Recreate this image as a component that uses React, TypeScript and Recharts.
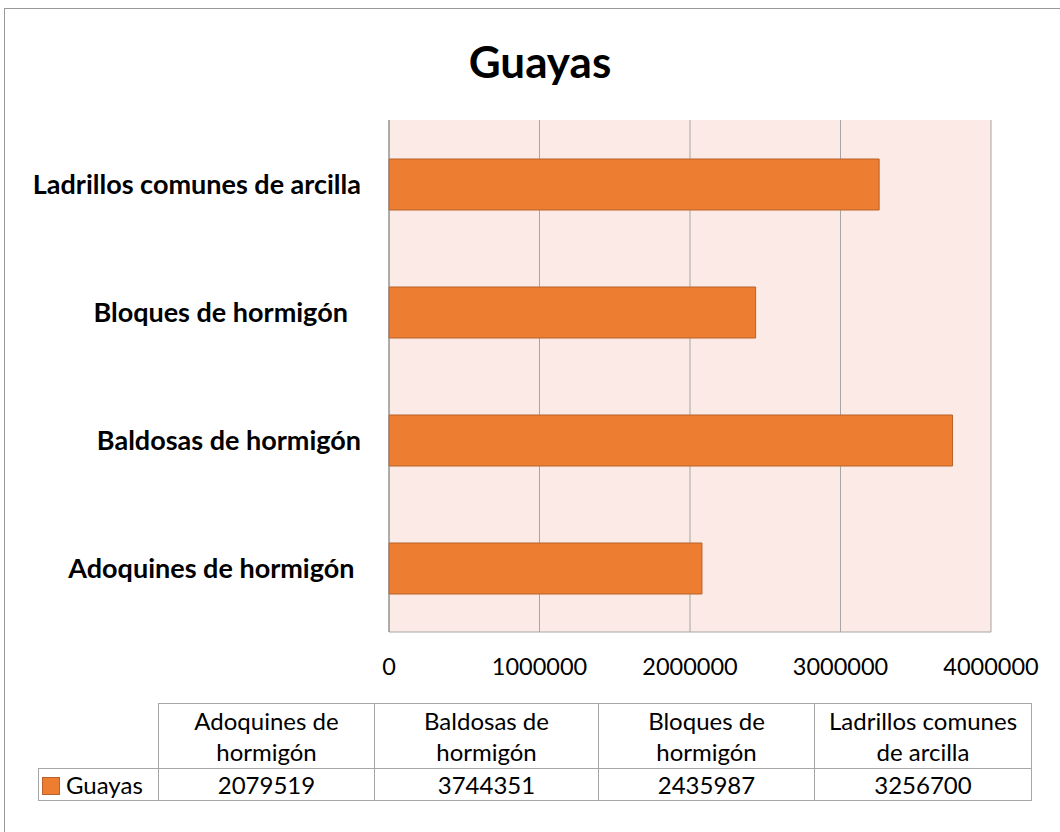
import { BarChart, Bar, XAxis, YAxis, CartesianGrid } from "recharts";

const categories = [
  "Adoquines de hormigón ",
  "Baldosas de hormigón",
  "Bloques de hormigón  ",
  "Ladrillos comunes de arcilla",
];
const guayas = [2079519, 3744351, 2435987, 3256700];
const xTicks = [0, 1000000, 2000000, 3000000, 4000000];
const seriesName = "Guayas";

const chartData = categories.map((name, i) => ({ name, value: guayas[i] }));

const FONT = "Lato, 'Open Sans', sans-serif";
const ORANGE = "#ED7D31";
const GRID = "#A6A6A6";

function CategoryTick(props: any) {
  const { x, y, payload } = props;
  return (
    <text
      x={x}
      y={y}
      dy='0.36em'
      textAnchor='end'
      fill='#000'
      fontFamily={FONT}
      fontWeight={700}
      fontSize={27}
      style={{ whiteSpace: "pre" }}
    >
      {payload.value}
    </text>
  );
}

const colWidths = [120, 216, 224, 216, 217];

export default function App() {
  const cell: React.CSSProperties = {
    border: `1px solid ${GRID}`,
    textAlign: "center",
    padding: 0,
    fontFamily: FONT,
    fontSize: 24,
    lineHeight: "31px",
    color: "#000",
  };

  return (
    <div
      style={{
        position: "absolute",
        left: 0,
        top: 0,
        width: 1060,
        height: 832,
        overflow: "hidden",
        background: "#fff",
      }}
    >
      <div
        style={{
          position: "absolute",
          left: 4,
          top: 8,
          width: 1100,
          height: 900,
          border: "1px solid #999",
        }}
      />
      <div
        style={{
          position: "absolute",
          left: 0,
          top: 33,
          width: 1080,
          textAlign: "center",
          fontFamily: FONT,
          fontWeight: 700,
          fontSize: 44,
          lineHeight: "56px",
        }}
      >
        {seriesName}
      </div>

      <div style={{ position: "absolute", left: 0, top: 0 }}>
        <BarChart
          width={1060}
          height={700}
          data={chartData}
          layout='vertical'
          margin={{ top: 120, right: 69, left: 0, bottom: 0 }}
        >
          <CartesianGrid
            horizontal={false}
            stroke={GRID}
            fill='#FBEAE5'
            fillOpacity={1}
          />
          <XAxis
            type='number'
            domain={[0, 4000000]}
            ticks={xTicks}
            interval={0}
            height={68}
            axisLine={{ stroke: GRID }}
            tickLine={false}
            tickMargin={20}
            tick={{ fill: "#000", fontFamily: FONT, fontSize: 23.5 }}
          />
          <YAxis
            type='category'
            dataKey='name'
            reversed
            width={389}
            axisLine={{ stroke: "#888" }}
            tickLine={false}
            tickMargin={22}
            tick={<CategoryTick />}
          />
          <Bar
            dataKey='value'
            name={seriesName}
            fill={ORANGE}
            stroke='#B9622A'
            strokeWidth={1}
            barSize={51}
            isAnimationActive={false}
          />
        </BarChart>
      </div>

      <table
        style={{
          position: "absolute",
          left: 38,
          top: 703,
          borderCollapse: "collapse",
          tableLayout: "fixed",
        }}
      >
        <colgroup>
          {colWidths.map((w, i) => (
            <col key={i} style={{ width: w }} />
          ))}
        </colgroup>
        <tbody>
          <tr>
            <td style={{ ...cell, border: "none" }} />
            {categories.map((c) => (
              <td key={c} style={{ ...cell, height: 64 }}>
                {c}
              </td>
            ))}
          </tr>
          <tr>
            <td style={{ ...cell, textAlign: "left", paddingLeft: 3 }}>
              <span
                style={{
                  display: "inline-block",
                  width: 16,
                  height: 16,
                  background: ORANGE,
                  border: "1px solid #B9622A",
                  marginRight: 6,
                  verticalAlign: "-1px",
                }}
              />
              {seriesName}
            </td>
            {guayas.map((v, i) => (
              <td key={i} style={cell}>
                {v}
              </td>
            ))}
          </tr>
        </tbody>
      </table>
    </div>
  );
}
